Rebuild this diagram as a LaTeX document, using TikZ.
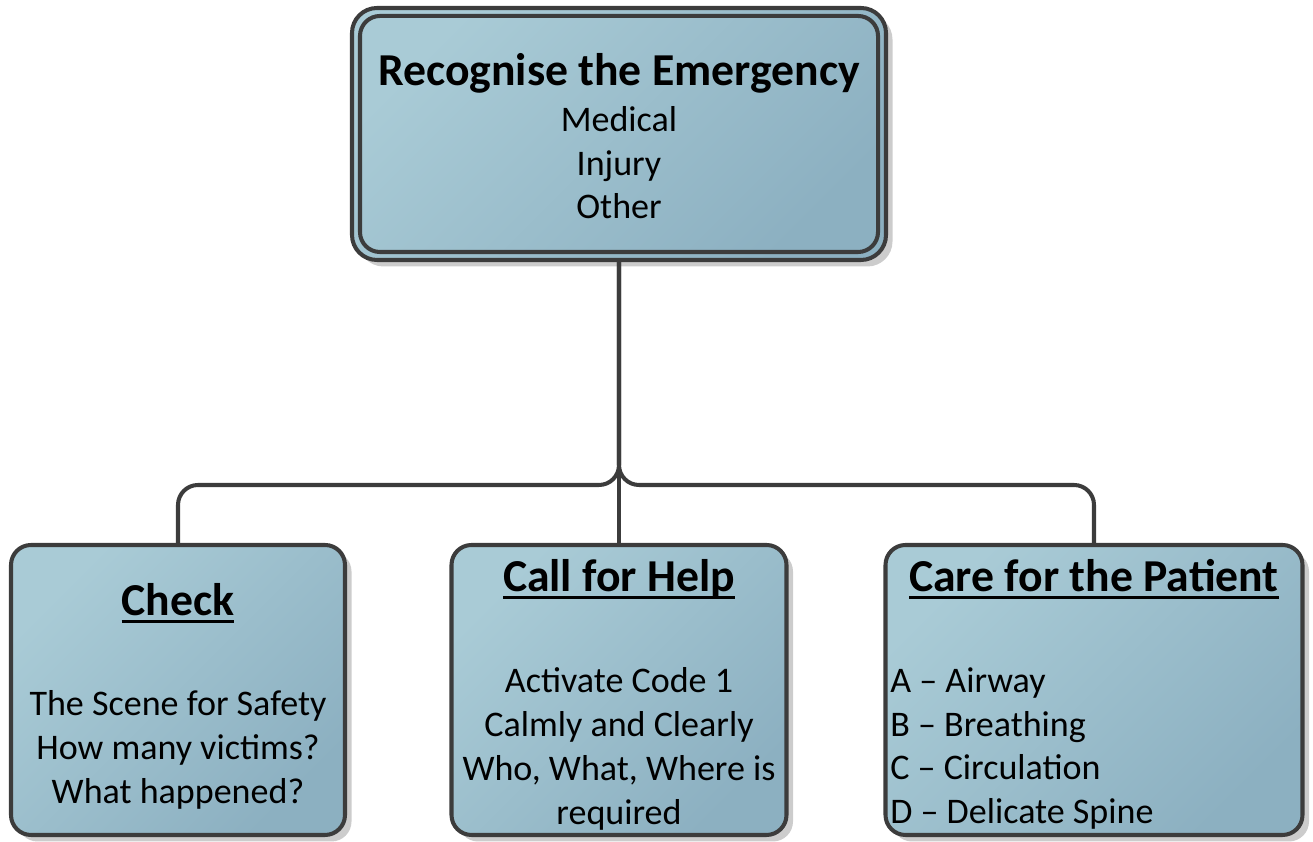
\documentclass[tikz,border=0pt]{standalone}
\usepackage{fontspec}
\setmainfont{Carlito}
\usetikzlibrary{shadows}
\usetikzlibrary{positioning}

\definecolor{boxlight}{HTML}{A9CBD6}
\definecolor{boxdark}{HTML}{8CB0C1}
\definecolor{boxline}{HTML}{3C3C3C}

% heading underline
\newcommand{\headul}[1]{\leavevmode\vtop{\hbox{\raisebox{0pt}[\height][0pt]{#1}}\kern2.6pt\hrule height 1.6pt}}

\begin{document}
\begin{tikzpicture}[
    font=\fontsize{20.5}{25}\selectfont
]
\tikzset{
    boxnode/.style = {rectangle, rounded corners=0.4cm, draw=boxline, line width=2.3pt,
        top color=boxlight, bottom color=boxdark, shading angle=45,
        drop shadow={shadow xshift=0.13cm, shadow yshift=-0.13cm, fill=black!20, opacity=1}},
    headnode/.style = {inner sep=0pt, anchor=north, font=\fontsize{26}{31}\selectfont\bfseries},
    textnode/.style = {inner sep=0pt, anchor=north, align=center},
    linkn/.style = {draw=boxline, line width=2.3pt}
}
\useasboundingbox (0,0) rectangle (26.26,16.84);
% top box
\node[boxnode, rounded corners=0.5cm, minimum width=10.68cm, minimum height=5.04cm]
    at (12.38,14.16) (emerg) {};
\draw[boxline, line width=2.3pt, rounded corners=0.4cm]
    ([shift={(0.2,0.2)}]emerg.south west) rectangle ([shift={(-0.2,-0.2)}]emerg.north east);
\node[textnode] at (12.38,15.78) (emergt)
    {{\fontsize{26}{31}\selectfont\bfseries Recognise the Emergency}\\[1pt]Medical\\Injury\\Other};
% bottom boxes
\node[boxnode, minimum width=6.68cm, minimum height=5.8cm] at (3.56,3.04) (check) {};
\node[boxnode, minimum width=6.7cm, minimum height=5.8cm] at (12.38,3.04) (call) {};
\node[boxnode, minimum width=8.34cm, minimum height=5.8cm] at (21.88,3.04) (care) {};
\node[headnode] at (3.56,5.18) (checkh) {\headul{Check}};
\node[headnode] at (12.38,5.66) (callh) {\headul{Call for Help}};
\node[headnode] at (21.88,5.66) (careh) {\headul{Care for the Patient}};
\node[textnode] at (3.56,3.03) (checkt) {The Scene for Safety\\How many victims?\\What happened?};
\node[textnode] at (12.38,3.50) (callt) {Activate Code 1\\Calmly and Clearly\\Who, What, Where is\\required};
\node[textnode, anchor=north west, align=left] at (17.8,3.50) (caret)
    {A -- Airway\\B -- Breathing\\C -- Circulation\\D -- Delicate Spine};
% connectors
\coordinate (bus) at (12.38,7.14);
\draw[linkn] (emerg.south) -- (call.north);
\draw[linkn, rounded corners=0.4cm] (emerg.south) -- (bus) -| (check.north);
\draw[linkn, rounded corners=0.4cm] (emerg.south) -- (bus) -| (care.north);
\end{tikzpicture}
\end{document}
